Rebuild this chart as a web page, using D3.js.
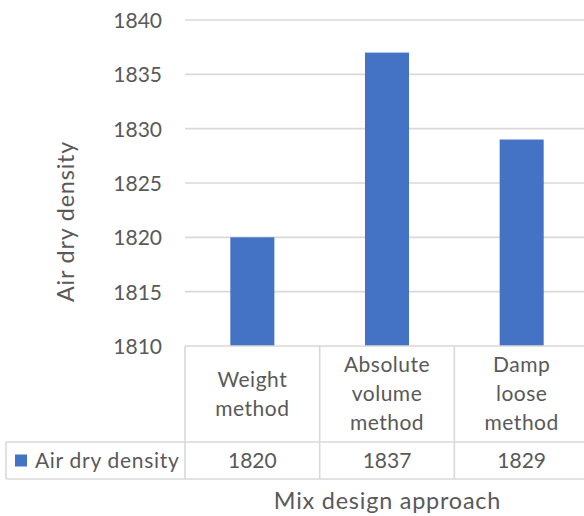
<!DOCTYPE html>
<html>
<head>
<meta charset="utf-8">
<script src="https://cdn.jsdelivr.net/npm/d3@7"></script>
<style>
  html, body { margin: 0; padding: 0; background: #fff; }
  svg { display: block; font-family: Lato, "Liberation Sans", sans-serif; }
</style>
</head>
<body>
<svg id="chart" width="584" height="516"></svg>
<script>
const categories = ["Weight method", "Absolute volume method", "Damp loose method"];
const seriesName = "Air dry density";
const values = [1820, 1837, 1829];
const yTicks = [1810, 1815, 1820, 1825, 1830, 1835, 1840];
const xTitle = "Mix design approach";
const yTitle = "Air dry density";

const svg = d3.select("#chart");
const textColor = "#595959";
const gridColor = "#d9d9d9";
const barColor = "#4472C4";

const y = d3.scaleLinear().domain([1810, 1840]).range([346, 20]);
const x = d3.scaleBand().domain(categories).range([185, 589])
  .paddingInner(0.673).paddingOuter(0.3365);
const step = x.step();

// gridlines (1810 coincides with table top)
svg.append("g").selectAll("line").data(yTicks.filter(t => t !== 1810)).join("line")
  .attr("x1", 185).attr("x2", 589)
  .attr("y1", d => y(d)).attr("y2", d => y(d))
  .attr("stroke", gridColor).attr("stroke-width", 1.6);

// y axis tick labels via d3 axis
const yAxis = d3.axisLeft(y).tickValues(yTicks).tickSize(0).tickPadding(0).tickFormat(d3.format("d"));
const gy = svg.append("g").attr("transform", "translate(162,0)").call(yAxis);
gy.select(".domain").remove();
gy.selectAll("text").attr("fill", textColor).style("font-size", "21px")
  .attr("font-family", "Lato, sans-serif").attr("dy", "0.36em");

// bars
svg.append("g").selectAll("rect").data(values).join("rect")
  .attr("x", (d, i) => x(categories[i]))
  .attr("width", x.bandwidth())
  .attr("y", d => y(d))
  .attr("height", d => y(1810) - y(d))
  .attr("fill", barColor);

// data table
const tTop = y(1810), rowDiv = 442, tBottom = 479, legendLeft = 6;
const tbl = svg.append("g").attr("stroke", gridColor).attr("stroke-width", 1.6);
const colEdges = categories.map(c => x(c) - x.paddingInner() * step / 2);
colEdges.push(colEdges[colEdges.length - 1] + step);
tbl.append("line").attr("x1", colEdges[0]).attr("x2", 600).attr("y1", tTop).attr("y2", tTop);
tbl.append("line").attr("x1", legendLeft).attr("x2", 600).attr("y1", rowDiv).attr("y2", rowDiv);
tbl.append("line").attr("x1", legendLeft).attr("x2", 600).attr("y1", tBottom).attr("y2", tBottom);
tbl.append("line").attr("x1", legendLeft).attr("x2", legendLeft).attr("y1", rowDiv).attr("y2", tBottom);
tbl.selectAll("line.v").data(colEdges).join("line").attr("class", "v")
  .attr("x1", d => d).attr("x2", d => d).attr("y1", tTop).attr("y2", tBottom);

// category labels
const catG = svg.append("g").attr("fill", textColor).style("font-size", "21px")
  .style("letter-spacing", "0.5px").attr("text-anchor", "middle");
categories.forEach(c => {
  const words = c.split(" ");
  const n = words.length;
  const t = catG.append("text");
  words.forEach((w, i) => {
    t.append("tspan").attr("x", x(c) + x.bandwidth() / 2)
      .attr("y", 401 + (i - (n - 1) / 2) * 29).text(w);
  });
});

// values row
svg.append("g").selectAll("text").data(values).join("text")
  .attr("x", (d, i) => x(categories[i]) + x.bandwidth() / 2)
  .attr("y", 468).attr("text-anchor", "middle")
  .attr("fill", textColor).style("font-size", "21px").text(d => d);

// legend key
svg.append("rect").attr("x", 15).attr("y", 454.5).attr("width", 12).attr("height", 12).attr("fill", barColor);
svg.append("text").attr("x", 35).attr("y", 468).attr("fill", textColor).style("font-size", "21px")
  .style("letter-spacing", "0.7px").text(seriesName);

// axis titles
svg.append("text").attr("x", 387.5).attr("y", 509).attr("text-anchor", "middle")
  .attr("fill", textColor).style("font-size", "23.4px").style("letter-spacing", "0.8px").text(xTitle);
svg.append("text").attr("transform", "translate(74,221.5) rotate(-90)").attr("text-anchor", "middle")
  .attr("fill", textColor).style("font-size", "23.4px").style("letter-spacing", "0.8px").text(yTitle);
</script>
</body>
</html>
